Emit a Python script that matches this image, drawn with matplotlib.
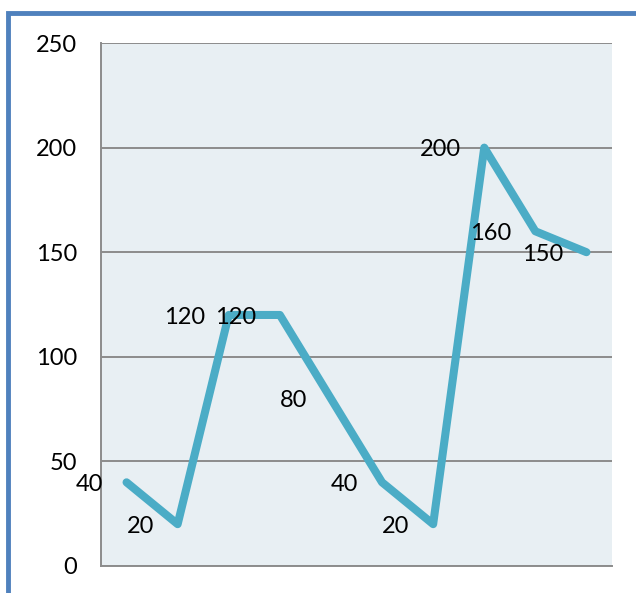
import matplotlib
matplotlib.use('Agg')
import matplotlib.pyplot as plt
from matplotlib.patches import Rectangle

# values
categories = ['1', '2', '3', '4', '5', '6', '7', '8', '9', '10']
values = [40, 20, 120, 120, 80, 40, 20, 200, 160, 150]
yticks = [0, 50, 100, 150, 200, 250]

plt.rcParams['font.family'] = ['Lato', 'DejaVu Sans']

W, H = 636, 593
fig = plt.figure(figsize=(W / 100, H / 100), dpi=100)
fig.patch.set_facecolor('white')

ax = fig.add_axes([101 / W, (H - 566) / H, (612 - 101) / W, (566 - 43) / H])
ax.set_facecolor('#E8EFF3')

x = list(range(len(categories)))
ax.plot(x, values, color='#4BACC6', linewidth=5.8,
        solid_capstyle='round', solid_joinstyle='round', zorder=3)

# data labels sit left of each point
for xi, v in zip(x, values):
    ax.annotate(str(v), (xi, v), xytext=(-17, -1.5), textcoords='offset points',
                ha='right', va='center', fontsize=17, color='black', zorder=4)

ax.set_xlim(-0.5, len(categories) - 0.5)
ax.set_ylim(0, 250)
ax.set_yticks(yticks)
ax.set_yticklabels([str(t) for t in yticks], fontsize=17)
ax.set_xticks([])
ax.tick_params(axis='y', length=0, pad=17)
ax.yaxis.grid(True, color='#8C8C8C', linewidth=1.4)
ax.set_axisbelow(True)

for side in ['top', 'right']:
    ax.spines[side].set_visible(False)
ax.spines['left'].set_color('#8C8C8C')
ax.spines['left'].set_linewidth(1.4)
ax.spines['bottom'].set_color('#8C8C8C')
ax.spines['bottom'].set_linewidth(1.4)

# blue frame, cut off at the right and bottom of the image
fig.patches.append(Rectangle((8 / W, -0.2), 1.3, 1 - 13 / H + 0.2,
                             transform=fig.transFigure, fill=False,
                             edgecolor='#4F81BD', linewidth=3.5, clip_on=False))

fig.savefig('out.png', dpi=100)
